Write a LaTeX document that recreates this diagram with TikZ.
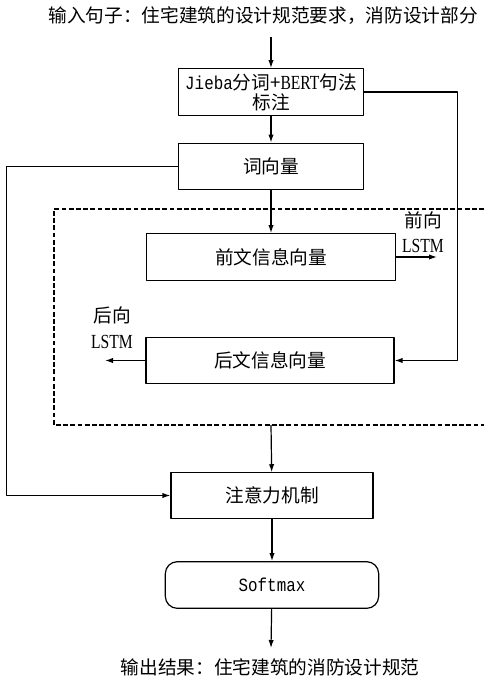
\documentclass[tikz,border=0pt]{standalone}
\usepackage{fontspec}
\setmainfont{Liberation Serif}
\setmonofont{Liberation Mono}
\newfontfamily\cjk{Noto Sans CJK SC}
\newfontfamily\latn[FakeStretch=0.78]{Liberation Serif}
\newfontfamily\mono[FakeStretch=0.85]{Liberation Mono}
\usetikzlibrary{arrows.meta}
\begin{document}
\begin{tikzpicture} [x=.75pt, y=-.75pt, font=\fontsize{14}{15}\cjk, line width=.9pt, line join=round, >={Latex[length=6pt,width=4pt]},
 box/.style={draw, minimum width=#1, minimum height=35pt, inner sep=1pt, align=center},
 lbl/.style={inner sep=0pt}]
 \useasboundingbox (0,0) rectangle (484,680);
 \node[lbl] (inp) at (263,16) {输入句子：住宅建筑的设计规范要求，消防设计部分};
 \node[box=139pt] (jieba) at (271,92) {{\mono Jieba}分词+{\fontsize{15}{15}\latn BERT}句法\\标注};
 \node[box=139pt] (cxl) at (271,166.5) {词向量};
 \node[box=187pt] (qw) at (271,257) {前文信息向量};
 \node[box=186pt, minimum height=34pt] (hw) at (270,360.5) {后文信息向量};
 \node[box=151.5pt, minimum height=34pt] (attn) at (272,495.5) {注意力机制};
 \node[box=160pt, rounded corners=9pt] (soft) at (272,585) {\mono Softmax};
 \node[lbl] (outp) at (270,667) {输出结果：住宅建筑的消防设计规范};
 % LSTM labels
 \node[lbl] (fwa) at (423,220) {前向};
 \node[lbl] (fwb) at (423,246) {\fontsize{15}{15}\latn LSTM};
 \node[lbl] (bwa) at (112,315) {后向};
 \node[lbl] (bwb) at (112,342) {\fontsize{15}{15}\latn LSTM};
 \coordinate (src) at (271,37);
 \coordinate (dbot) at (271,425);
 \coordinate (fe) at (437,257);
 \coordinate (be) at (105,360.5);
 \coordinate (dst) at (271,648);
 \draw[dash pattern=on 3.6pt off 1.8pt] (484,209) -| (54,425) -- (484,425);
 \draw[->] (src)--(jieba);
 \draw[->] (jieba)--(cxl);
 \draw[->] (cxl)--(qw);
 \draw[->] (qw.east)--(fe);
 \draw[->] (hw.west)--(be);
 \draw[->] (jieba.east)--++(93,0)|-(hw.east);
 \draw[->] (cxl.west)--++(-171,0)|-(attn.west);
 \draw[->] (dbot)--(attn);
 \draw[->] (attn)--(soft);
 \draw[->] (soft)--(dst);
\end{tikzpicture}
\end{document}
